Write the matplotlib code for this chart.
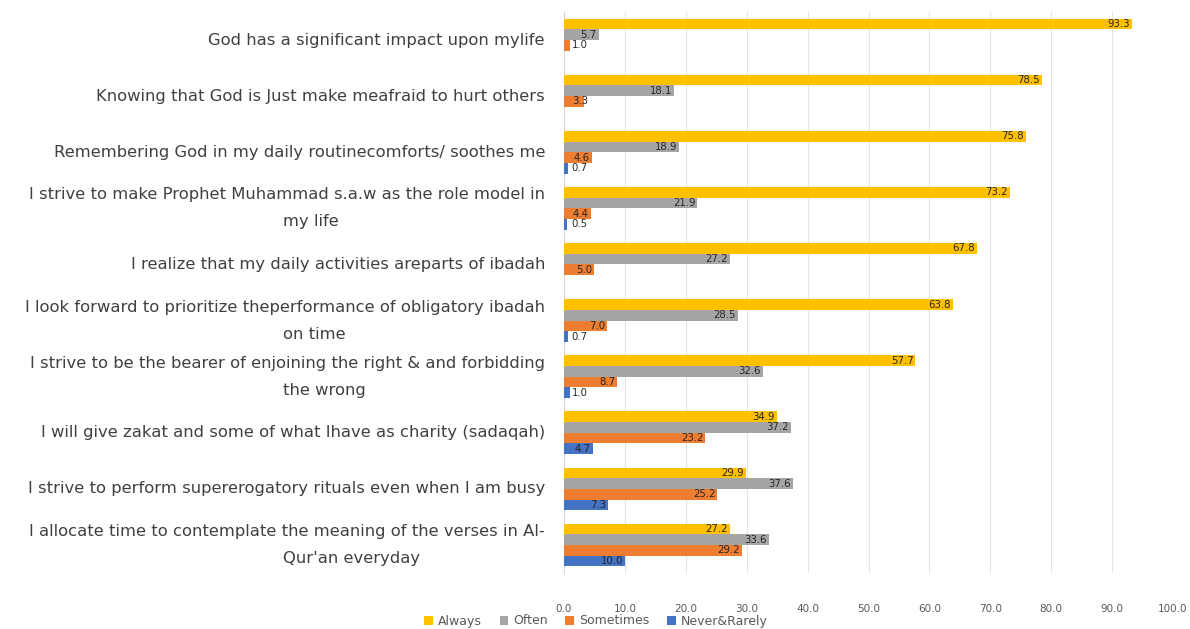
import matplotlib
matplotlib.use("Agg")
import matplotlib.pyplot as plt
import matplotlib.transforms as mtransforms
import numpy as np

categories = [
    "God has a significant impact upon mylife",
    "Knowing that God is Just make meafraid to hurt others",
    "Remembering God in my daily routinecomforts/ soothes me",
    "I strive to make Prophet Muhammad s.a.w as the role model in\nmy life",
    "I realize that my daily activities areparts of ibadah",
    "I look forward to prioritize theperformance of obligatory ibadah\non time",
    "I strive to be the bearer of enjoining the right & and forbidding\nthe wrong",
    "I will give zakat and some of what Ihave as charity (sadaqah)",
    "I strive to perform supererogatory rituals even when I am busy",
    "I allocate time to contemplate the meaning of the verses in Al-\nQur'an everyday",
]
series_names = ["Always", "Often", "Sometimes", "Never&Rarely"]
always = [93.3, 78.5, 75.8, 73.2, 67.8, 63.8, 57.7, 34.9, 29.9, 27.2]
often = [5.7, 18.1, 18.9, 21.9, 27.2, 28.5, 32.6, 37.2, 37.6, 33.6]
sometimes = [1.0, 3.3, 4.6, 4.4, 5.0, 7.0, 8.7, 23.2, 25.2, 29.2]
never = [0.0, 0.0, 0.7, 0.5, 0.0, 0.7, 1.0, 4.7, 7.3, 10.0]
xticks = [0, 10, 20, 30, 40, 50, 60, 70, 80, 90, 100]

colors = ["#FFC000", "#A5A5A5", "#ED7D31", "#4472C4"]
series = [always, often, sometimes, never]

fig = plt.figure(figsize=(11.9, 6.29), dpi=100)
ax = fig.add_axes([564/1190, 1-573/629, (1173-564)/1190, (573-12)/629])

n = len(categories)
y = np.arange(n)
h = 0.19
txtc = "#404040"
for i, (vals, c, name) in enumerate(zip(series, colors, series_names)):
    pos = y + (i - 1.5) * h
    ax.barh(pos, vals, height=h, color=c, label=name, zorder=3)
    for p, v in zip(pos, vals):
        if v > 0:
            ax.text(max(v, 4.2) - 0.3, p, f"{v:.1f}", ha="right", va="center",
                    fontsize=7.3, color="#262626", zorder=4)

ax.set_ylim(n - 0.5, -0.5)
ax.set_xlim(0, 100)
ax.set_xticks(xticks)
ax.set_xticklabels([f"{t:.1f}" for t in xticks], fontsize=7.5, color="#595959")
ax.tick_params(axis="x", length=0, pad=22)
ax.set_yticks([])
ax.grid(axis="x", color="#E3E3E3", linewidth=0.8, zorder=0)
for s in ["top", "right", "bottom"]:
    ax.spines[s].set_visible(False)
ax.spines["left"].set_color("#D9D9D9")

fs = 11.8
trans = mtransforms.blended_transform_factory(fig.transFigure, ax.transData)
for yi, cat in zip(y, categories):
    lines = cat.split("\n")
    if len(lines) == 1:
        ax.text(545/1190, yi, lines[0], transform=trans, ha="right", va="center",
                fontsize=fs, color=txtc)
    else:
        ax.text(545/1190, yi - 0.24, lines[0], transform=trans, ha="right", va="center",
                fontsize=fs, color=txtc)
        ax.text(283/1190, yi + 0.24, lines[1], transform=trans, ha="left", va="center",
                fontsize=fs, color=txtc)

leg = fig.legend(loc="center", bbox_to_anchor=(596/1190, 1-621/629), ncol=4,
                 frameon=False, fontsize=9, handlelength=0.7, handleheight=0.7,
                 columnspacing=1.4, handletextpad=0.4)
for t in leg.get_texts():
    t.set_color("#595959")

fig.savefig("out.png", dpi=100)
